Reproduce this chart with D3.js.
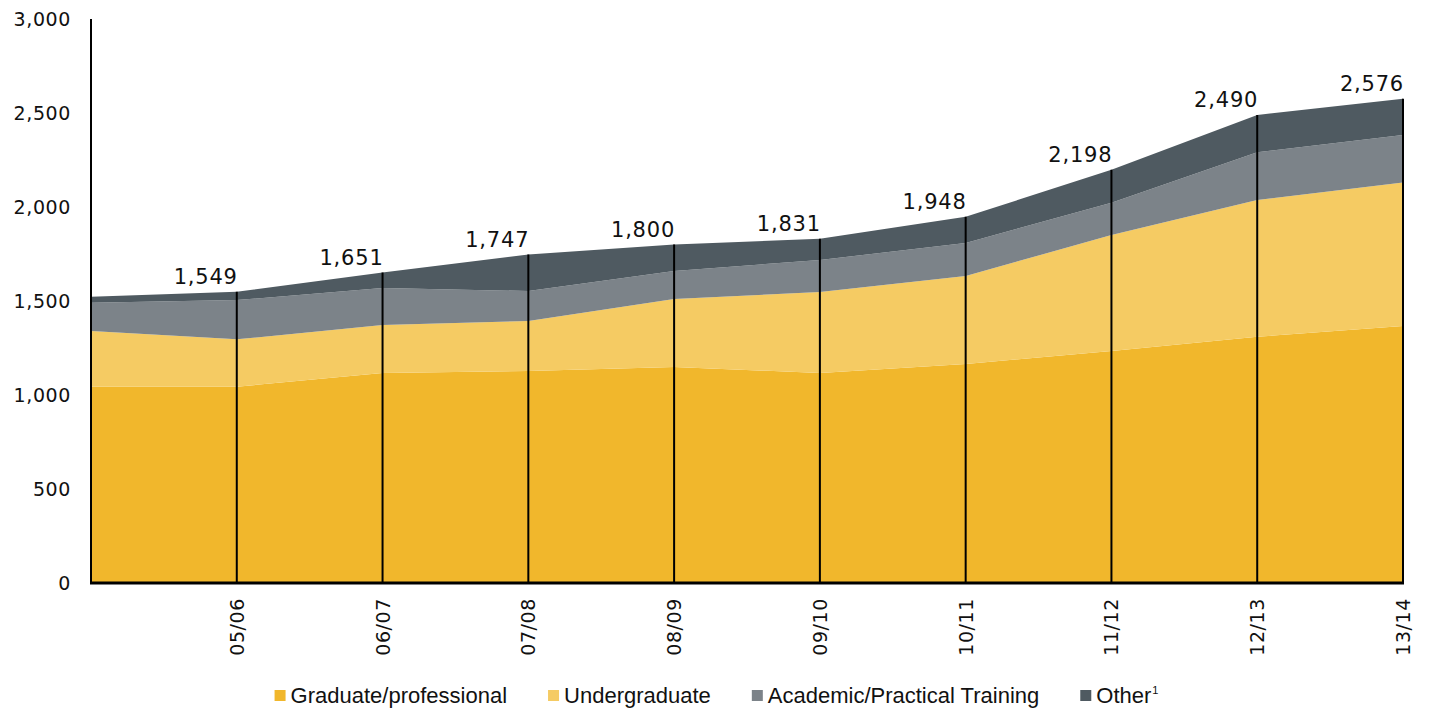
<!DOCTYPE html>
<html>
<head>
<meta charset="utf-8">
<script src="https://cdn.jsdelivr.net/npm/d3@7"></script>
<style>
  body { margin: 0; background: #fff; }
  svg text { fill: #111; }
</style>
</head>
<body>
<div id="chart"></div>
<script>
// chart values
var years = ["04/05", "05/06", "06/07", "07/08", "08/09", "09/10", "10/11", "11/12", "12/13", "13/14"]
var graduate = [1044, 1044, 1117, 1128, 1149, 1117, 1165, 1234, 1310, 1367]
var undergrad = [296, 252, 255, 266, 362, 431, 468, 617, 727, 763]
var academic = [151, 209, 197, 159, 149, 170, 176, 172, 254, 253]
var other = [32, 44, 82, 194, 140, 113, 139, 175, 199, 193]
var totals = [null, 1549, 1651, 1747, 1800, 1831, 1948, 2198, 2490, 2576]
var yTicks = [0, 500, 1000, 1500, 2000, 2500, 3000]
var seriesNames = ["Graduate/professional", "Undergraduate", "Academic/Practical Training", "Other"]
var colors = ["#F1B72C", "#F5CB63", "#7C8389", "#4F5A61"]

// plot box
var width = 1429
var height = 709
var mLeft = 91, mRight = 1403, mTop = 19, mBottom = 583

var rows = years.map(function(y, i) {
  return { year: y, g: graduate[i], u: undergrad[i], a: academic[i], o: other[i] }
})
var keys = ["g", "u", "a", "o"]

var svg = d3.select("#chart")
  .append("svg")
    .attr("width", width)
    .attr("height", height)

var x = d3.scalePoint().domain(years).range([mLeft, mRight])
var y = d3.scaleLinear().domain([0, 3000]).range([mBottom, mTop])

var stacked = d3.stack().keys(keys)(rows)

var area = d3.area()
  .x(function(d) { return x(d.data.year) })
  .y0(function(d) { return y(d[0]) })
  .y1(function(d) { return y(d[1]) })

svg.selectAll("path.layer")
  .data(stacked)
  .enter()
  .append("path")
    .attr("class", "layer")
    .attr("d", area)
    .attr("fill", function(d, i) { return colors[i] })

// vertical year lines up to the top of the stack
var top4 = stacked[3]
svg.selectAll("line.yr")
  .data(top4.slice(1))
  .enter()
  .append("line")
    .attr("x1", function(d) { return x(d.data.year) })
    .attr("x2", function(d) { return x(d.data.year) })
    .attr("y1", mBottom)
    .attr("y2", function(d) { return y(d[1]) })
    .attr("stroke", "#000")
    .attr("stroke-width", 2)

// total labels
svg.selectAll("text.total")
  .data(years.slice(1))
  .enter()
  .append("text")
    .attr("x", function(d) { return x(d) + 1 })
    .attr("y", function(d, i) { return y(totals[i + 1]) - 8 })
    .attr("text-anchor", "end")
    .style("font-family", "DejaVu Sans")
    .style("font-size", "21px")
    .style("letter-spacing", "0.8px")
    .text(function(d, i) { return d3.format(",")(totals[i + 1]) })

// y axis
svg.append("line")
  .attr("x1", mLeft).attr("x2", mLeft)
  .attr("y1", mTop).attr("y2", mBottom)
  .attr("stroke", "#000").attr("stroke-width", 2)

svg.selectAll("text.ytick")
  .data(yTicks)
  .enter()
  .append("text")
    .attr("x", 71)
    .attr("y", function(d) { return y(d) })
    .attr("dy", "0.36em")
    .attr("text-anchor", "end")
    .style("font-family", "DejaVu Sans")
    .style("font-size", "19px")
    .style("letter-spacing", "0.6px")
    .text(function(d) { return d3.format(",")(d) })

// x axis
svg.append("line")
  .attr("x1", mLeft - 1).attr("x2", mRight + 1)
  .attr("y1", mBottom).attr("y2", mBottom)
  .attr("stroke", "#000").attr("stroke-width", 3)

svg.selectAll("text.xtick")
  .data(years.slice(1))
  .enter()
  .append("text")
    .attr("transform", function(d) { return "translate(" + (x(d) + 7) + "," + 598 + ") rotate(-90)" })
    .attr("text-anchor", "end")
    .style("font-family", "DejaVu Sans")
    .style("font-size", "19px")
    .style("letter-spacing", "0.6px")
    .text(function(d) { return d })

// legend
var legend = svg.append("g")
var lx = 0
seriesNames.forEach(function(name, i) {
  var g = legend.append("g").attr("transform", "translate(" + lx + ",0)")
  g.append("rect")
    .attr("x", 0).attr("y", 690)
    .attr("width", 11).attr("height", 11)
    .attr("fill", colors[i])
  var t = g.append("text")
    .attr("x", 16).attr("y", 703)
    .style("font-family", "'Liberation Sans', Arial, sans-serif")
    .style("font-size", "22px")
    .text(name)
  if (name == "Other") {
    t.append("tspan").attr("dy", -9).attr("dx", 1).style("font-size", "11px").text("1")
  }
  lx += 16 + t.node().getComputedTextLength() + 41
})
var lw = lx - 41
legend.attr("transform", "translate(" + (716 - lw / 2) + ",0)")
</script>
</body>
</html>
